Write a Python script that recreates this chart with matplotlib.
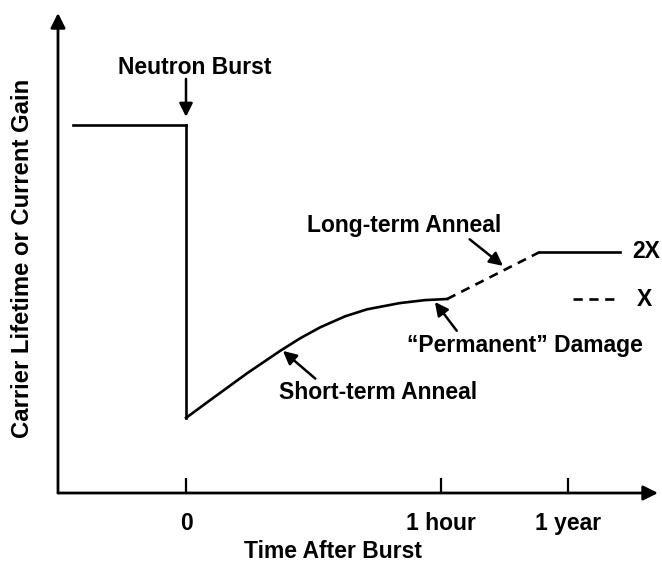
import matplotlib
matplotlib.use("Agg")
import matplotlib.pyplot as plt

plt.rcParams['font.family'] = ['Liberation Sans', 'DejaVu Sans']
plt.rcParams['font.weight'] = 'bold'

# ---- data (schematic units: x in time units, y relative to pre-burst level) ----
pre_x = [-0.443, 0.0]
pre_y = [1.0, 1.0]
drop_x = [0.0, 0.0]
drop_y = [1.0, 0.204]
short_x = [0.0, 0.106, 0.239, 0.369, 0.447, 0.526, 0.624, 0.710, 0.839, 0.937, 1.024]
short_y = [0.204, 0.258, 0.325, 0.386, 0.420, 0.450, 0.480, 0.499, 0.516, 0.524, 0.527]
long_x = [1.024, 1.388]
long_y = [0.527, 0.655]
sat_x = [1.388, 1.702]
sat_y = [0.655, 0.655]
leg_x = [1.518, 1.702]
leg_y = [0.527, 0.527]

tick_pos = [0, 1, 1.5]
tick_labels = ["0", "1 hour", "1 year"]

FS = 16.5
fig = plt.figure(figsize=(6.62, 5.62), dpi=100)
ax = fig.add_axes([58 / 662, (562 - 493) / 562, 600 / 662, 480 / 562])
ax.set_xlim(-0.502, 1.851)
ax.set_ylim(0, 1.304)
for s in ax.spines.values():
    s.set_visible(False)

# axes with arrow heads
ap = dict(arrowstyle='-|>', color='black', lw=2.0, mutation_scale=22, shrinkA=0, shrinkB=0)
ax.annotate('', xy=(1, 0), xytext=(0, 0), xycoords='axes fraction', arrowprops=ap)
ax.annotate('', xy=(0, 1), xytext=(0, 0), xycoords='axes fraction', arrowprops=ap)

lw = 1.9
ax.plot(pre_x, pre_y, color='black', lw=lw, solid_joinstyle='miter')
ax.plot(drop_x, drop_y, color='black', lw=lw)
ax.plot(short_x, short_y, color='black', lw=lw, solid_joinstyle='round')
ax.plot(long_x, long_y, color='black', lw=lw, ls=(0, (3.5, 2.5)))
ax.plot(sat_x, sat_y, color='black', lw=lw)
ax.plot(leg_x, leg_y, color='black', lw=lw, ls=(0, (3.5, 2.5)))

ax.set_xticks(tick_pos)
ax.set_xticklabels(tick_labels, fontsize=FS, fontweight='bold')
ax.set_yticks([])
ax.tick_params(axis='x', direction='in', length=11, width=1.6, pad=14)

fig.text(333 / 662, 1 - 552 / 562, "Time After Burst", ha='center', va='center',
         fontsize=FS, fontweight='bold')
fig.text(23 / 662, 1 - 258 / 562, "Carrier Lifetime or Current Gain", ha='center',
         va='center', rotation=90, fontsize=17.2, fontweight='bold')

arr = dict(arrowstyle='-|>', color='black', lw=1.8, mutation_scale=20, shrinkA=0, shrinkB=0)
ax.text(0.035, 1.155, "Neutron Burst", ha='center', va='center', fontsize=FS, fontweight='bold')
ax.annotate("", xy=(0.0, 1.022), xytext=(0.0, 1.125), arrowprops=dict(arr))
ax.annotate("Long-term Anneal", xy=(1.243, 0.617), xytext=(0.855, 0.728),
            ha='center', va='center', fontsize=FS, fontweight='bold',
            arrowprops=dict(arr, relpos=(0.82, 0.0)))
ax.annotate("\u201cPermanent\u201d Damage", xy=(0.976, 0.519), xytext=(1.329, 0.402),
            ha='center', va='center', fontsize=FS, fontweight='bold',
            arrowprops=dict(arr, relpos=(0.22, 1.0)))
ax.annotate("Short-term Anneal", xy=(0.380, 0.386), xytext=(0.753, 0.272),
            ha='center', va='center', fontsize=FS, fontweight='bold',
            arrowprops=dict(arr, relpos=(0.2, 1.0)))
ax.text(1.749, 0.655, "2X", ha='left', va='center', fontsize=FS, fontweight='bold')
ax.text(1.769, 0.527, "X", ha='left', va='center', fontsize=FS, fontweight='bold')

fig.savefig("out.png", dpi=100)
